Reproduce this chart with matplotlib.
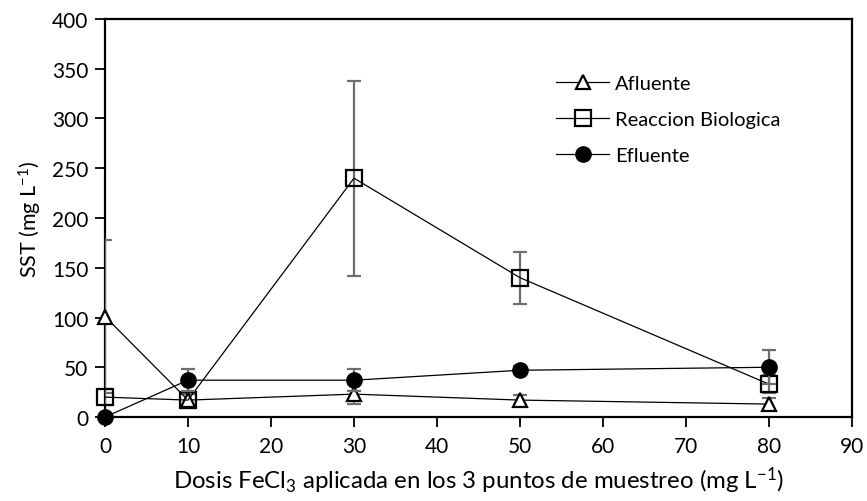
import numpy as np
import matplotlib.pyplot as plt

plt.rcParams['font.family'] = ['Lato', 'DejaVu Sans']
plt.rcParams['mathtext.fontset'] = 'custom'
plt.rcParams['mathtext.rm'] = 'Lato'
plt.rcParams['mathtext.it'] = 'Lato:italic'
plt.rcParams['axes.unicode_minus'] = False

dosis = [0, 10, 30, 50, 80]

afluente = [101, 17, 23, 17, 13]
afluente_err = [77, 6, 10, 5, 6]

reaccion = [20, 17, 240, 140, 33]
reaccion_err = [8, 8, 98, 26, 9]

efluente = [0, 37, 37, 47, 50]
efluente_err = [0, 11, 11, 4, 17]

fig = plt.figure(figsize=(8.67, 5.02), dpi=100)
ax = fig.add_axes([0.1211, 0.1673, 0.8616, 0.7929])

err_kw = dict(ecolor='#6e6e6e', elinewidth=1.6, capsize=5, capthick=1.6)

series = [
    (afluente, afluente_err, dict(marker='^', ms=14, mfc='white', mew=1.6), 'Afluente', 3),
    (reaccion, reaccion_err, dict(marker='s', ms=16, mfc='none', mew=1.6), 'Reaccion Biologica', 3),
    (efluente, efluente_err, dict(marker='o', ms=14, mfc='black'), 'Efluente', 4),
]
for y, e, mk, lab, z in series:
    c = ax.errorbar(dosis, y, yerr=e, color='black', lw=0.9, mec='black',
                    label=lab, zorder=z, **mk, **err_kw)
    c[0].set_clip_on(False)

ax.set_xlim(0, 90)
ax.set_ylim(0, 400)
ax.set_xticks(np.arange(0, 91, 10))
ax.set_yticks(np.arange(0, 401, 50))
ax.tick_params(direction='out', length=7, width=1.3, labelsize=15, pad=7)
ax.tick_params(axis='y', pad=5)
for s in ax.spines.values():
    s.set_linewidth(1.6)

ax.set_xlabel(r'Dosis FeCl$_\mathregular{3}$ aplicada en los 3 puntos de muestreo (mg L$^\mathregular{-1}$)',
              fontsize=17.3, labelpad=6)
ax.set_ylabel(r'SST (mg L$^\mathregular{-1}$)', fontsize=15.5, labelpad=6)

handles, labels = ax.get_legend_handles_labels()
handles = [h[0] for h in handles]
for h, s in zip(handles, [10, 11, 11]):
    h.set_markersize(s)
ax.legend(handles, labels, loc='upper left', bbox_to_anchor=(0.58, 0.905),
          frameon=False, fontsize=14.5, handlelength=2.6, handletextpad=0.3,
          labelspacing=0.95)

fig.savefig('out.png', dpi=100)
